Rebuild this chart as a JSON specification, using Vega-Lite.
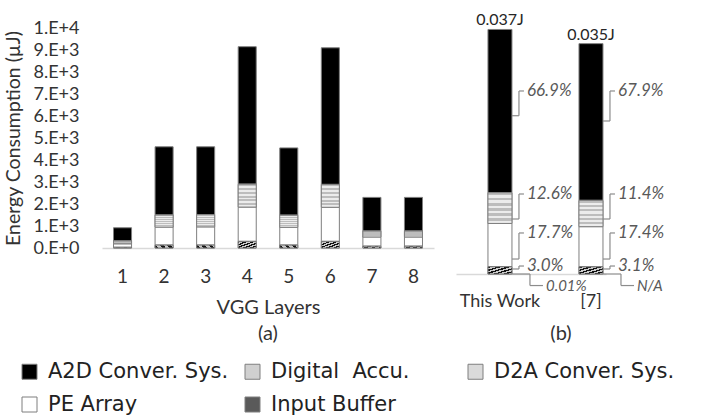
{
  "$schema": "https://vega.github.io/schema/vega-lite/v6.json",
  "background": "white",
  "padding": {"top": 12, "left": 3, "right": 0, "bottom": 0},
  "config": {
    "font": "Lato",
    "view": {"stroke": null},
    "axis": {"labelColor": "#333333", "titleColor": "#333333", "titleFontWeight": "normal"},
    "title": {"color": "#333333", "fontWeight": "normal", "fontSize": 20}
  },
  "datasets": {
    "layers": [
      {"layer": 1, "component": "A2D Conver. Sys.", "energy": 600},
      {"layer": 1, "component": "Digital Accu.", "energy": 130},
      {"layer": 1, "component": "D2A Conver. Sys.", "energy": 0.4},
      {"layer": 1, "component": "PE Array", "energy": 160},
      {"layer": 1, "component": "Input Buffer", "energy": 30},
      {"layer": 2, "component": "A2D Conver. Sys.", "energy": 3100},
      {"layer": 2, "component": "Digital Accu.", "energy": 550},
      {"layer": 2, "component": "D2A Conver. Sys.", "energy": 0.4},
      {"layer": 2, "component": "PE Array", "energy": 820},
      {"layer": 2, "component": "Input Buffer", "energy": 130},
      {"layer": 3, "component": "A2D Conver. Sys.", "energy": 3080},
      {"layer": 3, "component": "Digital Accu.", "energy": 560},
      {"layer": 3, "component": "D2A Conver. Sys.", "energy": 0.4},
      {"layer": 3, "component": "PE Array", "energy": 830},
      {"layer": 3, "component": "Input Buffer", "energy": 130},
      {"layer": 4, "component": "A2D Conver. Sys.", "energy": 6250},
      {"layer": 4, "component": "Digital Accu.", "energy": 1040},
      {"layer": 4, "component": "D2A Conver. Sys.", "energy": 0.4},
      {"layer": 4, "component": "PE Array", "energy": 1560},
      {"layer": 4, "component": "Input Buffer", "energy": 300},
      {"layer": 5, "component": "A2D Conver. Sys.", "energy": 3060},
      {"layer": 5, "component": "Digital Accu.", "energy": 550},
      {"layer": 5, "component": "D2A Conver. Sys.", "energy": 0.4},
      {"layer": 5, "component": "PE Array", "energy": 810},
      {"layer": 5, "component": "Input Buffer", "energy": 130},
      {"layer": 6, "component": "A2D Conver. Sys.", "energy": 6210},
      {"layer": 6, "component": "Digital Accu.", "energy": 1040},
      {"layer": 6, "component": "D2A Conver. Sys.", "energy": 0.4},
      {"layer": 6, "component": "PE Array", "energy": 1550},
      {"layer": 6, "component": "Input Buffer", "energy": 300},
      {"layer": 7, "component": "A2D Conver. Sys.", "energy": 1530},
      {"layer": 7, "component": "Digital Accu.", "energy": 270},
      {"layer": 7, "component": "D2A Conver. Sys.", "energy": 0.4},
      {"layer": 7, "component": "PE Array", "energy": 420},
      {"layer": 7, "component": "Input Buffer", "energy": 80},
      {"layer": 8, "component": "A2D Conver. Sys.", "energy": 1530},
      {"layer": 8, "component": "Digital Accu.", "energy": 270},
      {"layer": 8, "component": "D2A Conver. Sys.", "energy": 0.4},
      {"layer": 8, "component": "PE Array", "energy": 420},
      {"layer": 8, "component": "Input Buffer", "energy": 80}
    ],
    "compare": [
      {"bar": "This Work", "component": "A2D Conver. Sys.", "energy": 0.024753},
      {"bar": "This Work", "component": "Digital Accu.", "energy": 0.004662},
      {"bar": "This Work", "component": "D2A Conver. Sys.", "energy": 0.0000037},
      {"bar": "This Work", "component": "PE Array", "energy": 0.006549},
      {"bar": "This Work", "component": "Input Buffer", "energy": 0.00111},
      {"bar": "[7]", "component": "A2D Conver. Sys.", "energy": 0.023765},
      {"bar": "[7]", "component": "Digital Accu.", "energy": 0.00399},
      {"bar": "[7]", "component": "PE Array", "energy": 0.00609},
      {"bar": "[7]", "component": "Input Buffer", "energy": 0.001085}
    ],
    "notes": [
      {"bar": "This Work", "label": "66.9%", "kind": "main", "ylab": 0.02775, "ytgt": 0.0240},
      {"bar": "This Work", "label": "12.6%", "kind": "main", "ylab": 0.01213, "ytgt": 0.00834},
      {"bar": "This Work", "label": "17.7%", "kind": "main", "ylab": 0.00622, "ytgt": 0.00227},
      {"bar": "This Work", "label": "3.0%", "kind": "main", "ylab": 0.00121, "ytgt": 0.00076},
      {"bar": "This Work", "label": "0.01%", "kind": "below", "ylab": -0.00175, "ytgt": 0},
      {"bar": "[7]", "label": "67.9%", "kind": "main", "ylab": 0.02775, "ytgt": 0.0232},
      {"bar": "[7]", "label": "11.4%", "kind": "main", "ylab": 0.01213, "ytgt": 0.00834},
      {"bar": "[7]", "label": "17.4%", "kind": "main", "ylab": 0.00622, "ytgt": 0.00227},
      {"bar": "[7]", "label": "3.1%", "kind": "main", "ylab": 0.00121, "ytgt": 0.00076},
      {"bar": "[7]", "label": "N/A", "kind": "below", "ylab": -0.00175, "ytgt": 0}
    ]
  },
  "spacing": 22,
  "resolve": {"scale": {"color": "shared"}},
  "hconcat": [
    {
      "width": 332,
      "height": 220,
      "title": {"text": "(a)", "orient": "bottom", "offset": 7},
      "data": {"name": "layers"},
      "transform": [
        {"calculate": "indexof(['Input Buffer','PE Array','D2A Conver. Sys.','Digital Accu.','A2D Conver. Sys.'], datum.component)", "as": "rank"},
        {"stack": "energy", "groupby": ["layer"], "sort": [{"field": "rank", "order": "ascending"}], "as": ["e0", "e1"]}
      ],
      "encoding": {
        "x": {
          "field": "layer", "type": "ordinal",
          "scale": {"paddingInner": 0.566, "paddingOuter": 0.277},
          "axis": {"title": "VGG Layers", "labelAngle": 0, "labelFontSize": 19, "labelPadding": 19, "ticks": false, "domainColor": "#d9d9d9", "domainWidth": 1.5, "titleFontSize": 20, "titlePadding": 11}
        },
        "y": {
          "field": "e0", "type": "quantitative",
          "scale": {"domain": [0, 10000]},
          "axis": {
            "title": "Energy Consumption (µJ)",
            "values": [0, 1000, 2000, 3000, 4000, 5000, 6000, 7000, 8000, 9000, 10000],
            "labelExpr": "datum.value == 0 ? '0.E+0' : round(datum.value / pow(10, floor(log(datum.value) / LN10 + 1e-9))) + '.E+' + floor(log(datum.value) / LN10 + 1e-9)",
            "grid": false, "domain": false, "ticks": false,
            "labelPadding": 23, "labelFontSize": 18, "titleFontSize": 19.5, "titlePadding": 10
          }
        },
        "y2": {"field": "e1"}
      },
      "layer": [
        {
          "mark": {"type": "bar", "stroke": "#7f7f7f", "strokeWidth": 1},
          "encoding": {
            "color": {
              "field": "component", "type": "nominal",
              "scale": {
                "domain": ["A2D Conver. Sys.", "Digital Accu.", "D2A Conver. Sys.", "PE Array", "Input Buffer"],
                "range": ["#000000", "#d0d0d0", "#dadada", "#ffffff", "#5a5a5a"]
              },
              "legend": {
                "orient": "none", "legendX": -83, "legendY": 333,
                "direction": "horizontal", "columns": 3, "gridAlign": "all",
                "title": null, "symbolType": "square", "symbolSize": 225,
                "symbolStrokeColor": "#8c8c8c", "symbolStrokeWidth": 1,
                "labelFont": "DejaVu Sans", "labelFontSize": 21, "labelColor": "#222222", "labelOffset": 8,
                "columnPadding": 13, "rowPadding": 11, "labelLimit": 300,
                "labelExpr": "datum.label == 'Digital Accu.' ? 'Digital\u00a0 Accu.' : datum.label"
              }
            }
          }
        },
        {
          "transform": [{"filter": "datum.component == 'Digital Accu.'"}],
          "mark": {
            "type": "bar", "stroke": "#7f7f7f", "strokeWidth": 1,
            "fill": {"gradient": "linear", "x1": 0, "y1": 0, "x2": 0, "y2": 1, "stops": [
              {"offset": 0, "color": "#bdbdbd"}, {"offset": 0.083, "color": "#bdbdbd"},
              {"offset": 0.083, "color": "#ececec"}, {"offset": 0.167, "color": "#ececec"},
              {"offset": 0.167, "color": "#bdbdbd"}, {"offset": 0.25, "color": "#bdbdbd"},
              {"offset": 0.25, "color": "#ececec"}, {"offset": 0.333, "color": "#ececec"},
              {"offset": 0.333, "color": "#bdbdbd"}, {"offset": 0.417, "color": "#bdbdbd"},
              {"offset": 0.417, "color": "#ececec"}, {"offset": 0.5, "color": "#ececec"},
              {"offset": 0.5, "color": "#bdbdbd"}, {"offset": 0.583, "color": "#bdbdbd"},
              {"offset": 0.583, "color": "#ececec"}, {"offset": 0.667, "color": "#ececec"},
              {"offset": 0.667, "color": "#bdbdbd"}, {"offset": 0.75, "color": "#bdbdbd"},
              {"offset": 0.75, "color": "#ececec"}, {"offset": 0.833, "color": "#ececec"},
              {"offset": 0.833, "color": "#bdbdbd"}, {"offset": 0.917, "color": "#bdbdbd"},
              {"offset": 0.917, "color": "#ececec"}, {"offset": 1, "color": "#ececec"}
            ]}
          }
        },
        {
          "transform": [{"filter": "datum.component == 'Input Buffer'"}],
          "mark": {
            "type": "bar", "stroke": "#7f7f7f", "strokeWidth": 1,
            "fill": {"gradient": "linear", "x1": 0, "y1": 0, "x2": 1, "y2": 1, "stops": [
              {"offset": 0, "color": "#111111"}, {"offset": 0.1, "color": "#111111"},
              {"offset": 0.1, "color": "#cccccc"}, {"offset": 0.2, "color": "#cccccc"},
              {"offset": 0.2, "color": "#111111"}, {"offset": 0.3, "color": "#111111"},
              {"offset": 0.3, "color": "#cccccc"}, {"offset": 0.4, "color": "#cccccc"},
              {"offset": 0.4, "color": "#111111"}, {"offset": 0.5, "color": "#111111"},
              {"offset": 0.5, "color": "#cccccc"}, {"offset": 0.6, "color": "#cccccc"},
              {"offset": 0.6, "color": "#111111"}, {"offset": 0.7, "color": "#111111"},
              {"offset": 0.7, "color": "#cccccc"}, {"offset": 0.8, "color": "#cccccc"},
              {"offset": 0.8, "color": "#111111"}, {"offset": 0.9, "color": "#111111"},
              {"offset": 0.9, "color": "#cccccc"}, {"offset": 1, "color": "#cccccc"}
            ]}
          }
        }
      ]
    },
    {
      "width": 150,
      "height": 246,
      "title": {"text": "(b)", "orient": "bottom", "offset": 14, "dx": 30},
      "data": {"name": "compare"},
      "encoding": {
        "x": {
          "field": "bar", "type": "nominal",
          "scale": {"domain": ["This Work", "[7]"], "paddingInner": 0.9, "paddingOuter": 0.274, "align": 0.79},
          "axis": {"title": null, "labelAngle": 0, "labelFontSize": 18, "labelPadding": 18, "ticks": false, "domainColor": "#d9d9d9", "domainWidth": 1.5}
        }
      },
      "layer": [
        {
          "transform": [
            {"calculate": "indexof(['Input Buffer','PE Array','D2A Conver. Sys.','Digital Accu.','A2D Conver. Sys.'], datum.component)", "as": "rank"},
            {"stack": "energy", "groupby": ["bar"], "sort": [{"field": "rank", "order": "ascending"}], "as": ["e0", "e1"]}
          ],
          "encoding": {
            "y": {"field": "e0", "type": "quantitative", "scale": {"domain": [0, 0.0373], "nice": false, "zero": false}, "axis": null},
            "y2": {"field": "e1"}
          },
          "layer": [
            {
              "mark": {"type": "bar", "width": 24, "stroke": "#7f7f7f", "strokeWidth": 1},
              "encoding": {"color": {"field": "component", "type": "nominal"}}
            },
            {
              "transform": [{"filter": "datum.component == 'Digital Accu.'"}],
              "mark": {
                "type": "bar", "width": 24, "stroke": "#7f7f7f", "strokeWidth": 1,
                "fill": {"gradient": "linear", "x1": 0, "y1": 0, "x2": 0, "y2": 1, "stops": [
                  {"offset": 0, "color": "#bdbdbd"}, {"offset": 0.083, "color": "#bdbdbd"},
                  {"offset": 0.083, "color": "#ececec"}, {"offset": 0.167, "color": "#ececec"},
                  {"offset": 0.167, "color": "#bdbdbd"}, {"offset": 0.25, "color": "#bdbdbd"},
                  {"offset": 0.25, "color": "#ececec"}, {"offset": 0.333, "color": "#ececec"},
                  {"offset": 0.333, "color": "#bdbdbd"}, {"offset": 0.417, "color": "#bdbdbd"},
                  {"offset": 0.417, "color": "#ececec"}, {"offset": 0.5, "color": "#ececec"},
                  {"offset": 0.5, "color": "#bdbdbd"}, {"offset": 0.583, "color": "#bdbdbd"},
                  {"offset": 0.583, "color": "#ececec"}, {"offset": 0.667, "color": "#ececec"},
                  {"offset": 0.667, "color": "#bdbdbd"}, {"offset": 0.75, "color": "#bdbdbd"},
                  {"offset": 0.75, "color": "#ececec"}, {"offset": 0.833, "color": "#ececec"},
                  {"offset": 0.833, "color": "#bdbdbd"}, {"offset": 0.917, "color": "#bdbdbd"},
                  {"offset": 0.917, "color": "#ececec"}, {"offset": 1, "color": "#ececec"}
                ]}
              }
            },
            {
              "transform": [{"filter": "datum.component == 'Input Buffer'"}],
              "mark": {
                "type": "bar", "width": 24, "stroke": "#7f7f7f", "strokeWidth": 1,
                "fill": {"gradient": "linear", "x1": 0, "y1": 0, "x2": 1, "y2": 1, "stops": [
                  {"offset": 0, "color": "#111111"}, {"offset": 0.1, "color": "#111111"},
                  {"offset": 0.1, "color": "#cccccc"}, {"offset": 0.2, "color": "#cccccc"},
                  {"offset": 0.2, "color": "#111111"}, {"offset": 0.3, "color": "#111111"},
                  {"offset": 0.3, "color": "#cccccc"}, {"offset": 0.4, "color": "#cccccc"},
                  {"offset": 0.4, "color": "#111111"}, {"offset": 0.5, "color": "#111111"},
                  {"offset": 0.5, "color": "#cccccc"}, {"offset": 0.6, "color": "#cccccc"},
                  {"offset": 0.6, "color": "#111111"}, {"offset": 0.7, "color": "#111111"},
                  {"offset": 0.7, "color": "#cccccc"}, {"offset": 0.8, "color": "#cccccc"},
                  {"offset": 0.8, "color": "#111111"}, {"offset": 0.9, "color": "#111111"},
                  {"offset": 0.9, "color": "#cccccc"}, {"offset": 1, "color": "#cccccc"}
                ]}
              }
            }
          ]
        },
        {
          "transform": [
            {"aggregate": [{"op": "sum", "field": "energy", "as": "total"}], "groupby": ["bar"]},
            {"calculate": "format(datum.total, '.3f') + 'J'", "as": "lbl"}
          ],
          "mark": {"type": "text", "fontSize": 16, "fontWeight": "normal", "color": "#262626", "baseline": "alphabetic", "dy": -4},
          "encoding": {
            "y": {"field": "total", "type": "quantitative", "scale": {"domain": [0, 0.0373], "nice": false, "zero": false}},
            "text": {"field": "lbl"}
          }
        },
        {
          "data": {"name": "notes"},
          "transform": [{"filter": "datum.kind == 'main'"}],
          "layer": [
            {
              "mark": {"type": "rule", "xOffset": 19, "color": "#8c8c8c", "strokeWidth": 1.2},
              "encoding": {"y": {"field": "ylab", "type": "quantitative", "scale": {"domain": [0, 0.0373], "nice": false, "zero": false}}, "y2": {"field": "ytgt"}}
            },
            {
              "mark": {"type": "rule", "xOffset": 19, "x2Offset": 24, "color": "#8c8c8c", "strokeWidth": 1.2},
              "encoding": {"x2": {"field": "bar"}, "y": {"field": "ylab", "type": "quantitative", "scale": {"domain": [0, 0.0373], "nice": false, "zero": false}}}
            },
            {
              "mark": {"type": "rule", "xOffset": 12, "x2Offset": 19, "color": "#8c8c8c", "strokeWidth": 1.2},
              "encoding": {"x2": {"field": "bar"}, "y": {"field": "ytgt", "type": "quantitative", "scale": {"domain": [0, 0.0373], "nice": false, "zero": false}}}
            },
            {
              "mark": {"type": "text", "dx": 27, "align": "left", "baseline": "middle", "fontStyle": "italic", "fontSize": 17, "color": "#595959"},
              "encoding": {"y": {"field": "ylab", "type": "quantitative", "scale": {"domain": [0, 0.0373], "nice": false, "zero": false}}, "text": {"field": "label"}}
            }
          ]
        },
        {
          "data": {"name": "notes"},
          "transform": [{"filter": "datum.kind == 'below'"}],
          "layer": [
            {
              "mark": {"type": "rule", "xOffset": 30, "color": "#8c8c8c", "strokeWidth": 1.2},
              "encoding": {"y": {"field": "ylab", "type": "quantitative", "scale": {"domain": [0, 0.0373], "nice": false, "zero": false}}, "y2": {"field": "ytgt"}}
            },
            {
              "mark": {"type": "rule", "xOffset": 12, "x2Offset": 30, "color": "#8c8c8c", "strokeWidth": 1.2},
              "encoding": {"x2": {"field": "bar"}, "y": {"field": "ytgt", "type": "quantitative", "scale": {"domain": [0, 0.0373], "nice": false, "zero": false}}}
            },
            {
              "mark": {"type": "rule", "xOffset": 30, "x2Offset": 43, "color": "#8c8c8c", "strokeWidth": 1.2},
              "encoding": {"x2": {"field": "bar"}, "y": {"field": "ylab", "type": "quantitative", "scale": {"domain": [0, 0.0373], "nice": false, "zero": false}}}
            },
            {
              "mark": {"type": "text", "dx": 46, "align": "left", "baseline": "middle", "fontStyle": "italic", "fontSize": 15, "color": "#595959"},
              "encoding": {"y": {"field": "ylab", "type": "quantitative", "scale": {"domain": [0, 0.0373], "nice": false, "zero": false}}, "text": {"field": "label"}}
            }
          ]
        }
      ]
    }
  ]
}
